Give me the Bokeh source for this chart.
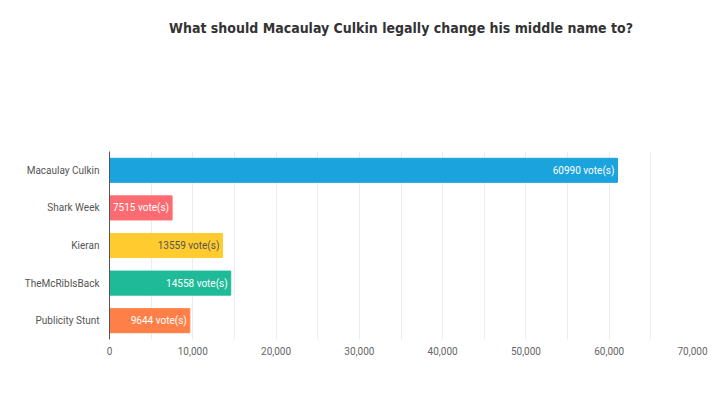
from bokeh.plotting import figure
from bokeh.models import ColumnDataSource, Range1d, FactorRange, FixedTicker, NumeralTickFormatter, LabelSet, Title
from bokeh.core.properties import value
from bokeh.embed import file_html
from bokeh.resources import INLINE

title_text = "What should Macaulay Culkin legally change his middle name to?"
categories = ["Macaulay Culkin", "Shark Week", "Kieran", "TheMcRibIsBack", "Publicity Stunt"]
votes = [60990, 7515, 13559, 14558, 9644]
colors = ["#1ba3de", "#fd6b72", "#ffcb2e", "#1fbb98", "#ff7f48"]
label_colors = ["#ffffff", "#ffffff", "#555555", "#ffffff", "#ffffff"]
x_ticks = [0, 10000, 20000, 30000, 40000, 50000, 60000, 70000]
grid_ticks = list(range(0, 70001, 5000))

labels = [f"{v} vote(s)" for v in votes]
src = ColumnDataSource(dict(cat=categories, v=votes, c=colors, lc=label_colors, lab=labels))

p = figure(width=720, height=400, output_backend="svg", toolbar_location=None,
           y_range=FactorRange(*reversed(categories)), x_range=Range1d(0, 70000))
p.min_border_left = 109
p.min_border_right = 28
p.min_border_bottom = 61
p.min_border_top = 0
p.outline_line_color = None
p.background_fill_color = "white"
p.border_fill_color = "white"

# spacer title (close to frame) and main title (outermost)
p.add_layout(Title(text="\u00a0", text_font_size="1px", standoff=92), "above")
p.add_layout(Title(text=title_text, align="center", vertical_align="top", standoff=38,
                   text_font="'DejaVu Sans Condensed', Roboto", text_font_size="14px",
                   text_font_style="bold", text_color="#333333"), "above")

p.hbar(y="cat", right="v", left=0, height=0.64, color="c", source=src)

p.add_layout(LabelSet(x="v", y="cat", text="lab", source=src, x_offset=-3,
                      text_align="right", text_baseline="middle",
                      text_font_size="10px", text_font=value("Roboto"), text_color="lc"))

xa = p.xaxis[0]
xa.ticker = FixedTicker(ticks=x_ticks)
xa.formatter = NumeralTickFormatter(format="0,0")
xa.axis_line_color = None
xa.major_tick_line_color = None
xa.minor_tick_line_color = None
xa.major_label_text_font = "Roboto"
xa.major_label_text_font_size = "10px"
xa.major_label_text_color = "#666666"
xa.major_label_standoff = 1

ya = p.yaxis[0]
ya.axis_line_color = "#555555"
ya.axis_line_width = 1
ya.major_tick_line_color = None
ya.minor_tick_line_color = None
ya.major_label_text_font = "Roboto"
ya.major_label_text_font_size = "10px"
ya.major_label_text_color = "#555555"
ya.major_label_standoff = 4

p.xgrid.ticker = FixedTicker(ticks=grid_ticks)
p.xgrid.grid_line_color = "#ececec"
p.ygrid.grid_line_color = None

open("out.html", "w").write(file_html(p, INLINE))
